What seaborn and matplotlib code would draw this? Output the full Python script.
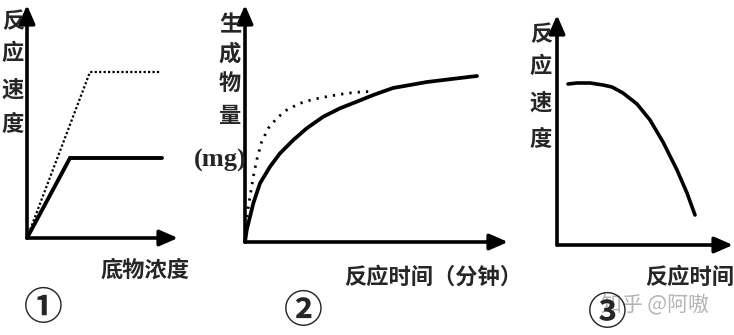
import matplotlib
matplotlib.use("Agg")
import matplotlib.pyplot as plt
import seaborn as sns

# ---------------- data (arbitrary units) ----------------
# Panel 1: reaction rate vs substrate concentration
p1_solid_x = [0, 43, 135]
p1_solid_y = [0, 80, 80]
p1_dot_x = [0, 63, 133]
p1_dot_y = [0, 166, 166]

# Panel 2: product amount (mg) vs reaction time (min)
p2_solid_x = [0, 1.7, 8.3, 15, 25, 35, 48.3, 61.7, 78.3, 95, 111.7, 128.3, 148, 182, 215, 232]
p2_solid_y = [0, 12, 38.7, 58.7, 75.3, 88.7, 102, 113.7, 125.3, 133.7, 140.3, 147, 154, 160, 164, 166]
p2_dot_x = [0, 1.7, 5, 8.3, 11.7, 16.7, 23.3, 31.7, 41.7, 55, 68.3, 85, 101.7, 118.3, 128]
p2_dot_y = [0, 25.3, 45.3, 65.3, 82, 100.3, 113.7, 123.7, 132, 138.7, 142.7, 146, 148.7, 150.3, 150.5]

# Panel 3: reaction rate vs reaction time
p3_x = [11, 20, 33, 46, 55, 66, 80, 93, 106, 120, 130, 138]
p3_y = [161, 162, 162, 160, 158, 152, 141, 125, 103, 75, 52, 30]

# labels
p1_ylabel = ["反", "应", "速", "度"]
p1_xlabel = "底物浓度"
p2_ylabel = ["生", "成", "物", "量"]
p2_unit = "(mg)"
p2_xlabel = "反应时间（分钟）"
p3_ylabel = ["反", "应", "速", "度"]
p3_xlabel = "反应时间"
panel_marks = ["①", "②", "③"]
watermark = "知乎 @阿嗷"

# ---------------- style ----------------
sns.set_theme(style="white")
CJK = ["Noto Sans CJK SC", "DejaVu Sans"]
plt.rcParams["font.family"] = CJK

W, H = 734, 335
fig = plt.figure(figsize=(W / 100, H / 100), dpi=100)
fig.patch.set_facecolor("white")


def make_axes(x0, y0, x1, y1, xmax, ymax):
    ax = fig.add_axes([x0 / W, (H - y0) / H, (x1 - x0) / W, (y0 - y1) / H])
    ax.set_xlim(0, xmax)
    ax.set_ylim(0, ymax)
    ax.set_facecolor("none")
    for s in ax.spines.values():
        s.set_visible(False)
    ax.set_xticks([])
    ax.set_yticks([])
    ax.set_xlabel("")
    ax.set_ylabel("")
    arrow = dict(arrowstyle="-|>,head_length=0.55,head_width=0.24", lw=2.6,
                 color="black", mutation_scale=20, shrinkA=0, shrinkB=0)
    ax.annotate("", xy=(1, 0), xytext=(0, 0), xycoords="axes fraction",
                arrowprops=arrow, annotation_clip=False)
    ax.annotate("", xy=(0, 1), xytext=(0, 0), xycoords="axes fraction",
                arrowprops=arrow, annotation_clip=False)
    return ax


def ftext(x, y, s, **kw):
    fig.text(x / W, 1 - y / H, s, ha="center", va="center", **kw)


# Panel 1
ax1 = make_axes(27, 238, 178, 5, 151, 233)
sns.lineplot(x=p1_dot_x, y=p1_dot_y, ax=ax1, color="black", lw=1.6,
             linestyle=(0, (1, 1)), clip_on=False)
sns.lineplot(x=p1_solid_x, y=p1_solid_y, ax=ax1, color="black", lw=2.8,
             clip_on=False, solid_joinstyle="miter")

# Panel 2
ax2 = make_axes(245, 242, 508, 5, 263, 237)
sns.lineplot(x=p2_dot_x, y=p2_dot_y, ax=ax2, color="black", lw=2.0,
             linestyle=(0, (0.8, 2.2)), clip_on=False)
sns.lineplot(x=p2_solid_x, y=p2_solid_y, ax=ax2, color="black", lw=2.7,
             clip_on=False, solid_joinstyle="round")

# Panel 3
ax3 = make_axes(557, 245, 733, 15, 176, 230)
sns.lineplot(x=p3_x, y=p3_y, ax=ax3, color="black", lw=2.6, clip_on=False,
             solid_joinstyle="round")

# ---------------- text ----------------
fs = 16
fw = "bold"
for ch, yy in zip(p1_ylabel, [22, 53, 90, 125]):
    ftext(13, yy, ch, fontsize=fs, family=CJK, fontweight=fw)
ftext(145, 270, p1_xlabel, fontsize=fs, family=CJK, fontweight=fw)

for ch, yy in zip(p2_ylabel, [25, 54, 83, 116]):
    ftext(230, yy, ch, fontsize=fs, family=CJK, fontweight=fw)
ftext(220, 160, p2_unit, fontsize=19, family=["Liberation Serif"], fontweight="bold")
ftext(433, 277, p2_xlabel, fontsize=fs, family=CJK, fontweight=fw)

for ch, yy in zip(p3_ylabel, [35, 66, 103, 140]):
    ftext(541, yy, ch, fontsize=fs, family=CJK, fontweight=fw)
ftext(690, 277, p3_xlabel, fontsize=fs, family=CJK, fontweight=fw)

ftext(655, 304, watermark, fontsize=15, family=CJK, color="#b4b4b4")
for s, (xx, yy) in zip(panel_marks, [(43.5, 308.5), (303, 312), (607, 313)]):
    ftext(xx, yy, s, fontsize=28, family=CJK, fontweight="bold")

fig.savefig("out.png", dpi=100, facecolor="white")
